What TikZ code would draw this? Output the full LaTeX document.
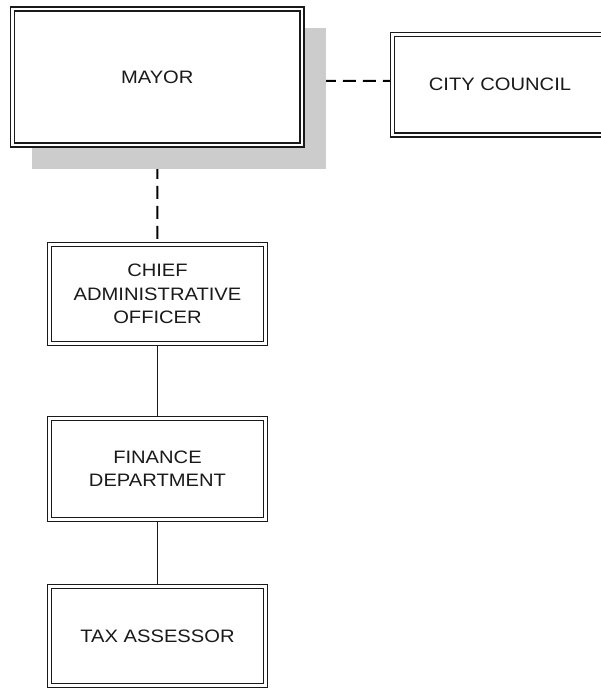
\documentclass[tikz,border=0pt]{standalone}
\usepackage{fontspec}
\setmainfont{Liberation Sans}[FakeStretch=1.12]
\pgfdeclarelayer{links}
\pgfdeclarelayer{shade}
\pgfsetlayers{links,shade,main}
\definecolor{shadowgray}{HTML}{CCCCCC}
\definecolor{inkgray}{HTML}{1A1A1A}
\tikzset{
  orgbox/.style={draw=inkgray, fill=white, line width=1.6pt, double=white,
    double distance=2.1pt, inner sep=0pt, align=center, text=inkgray,
    font=\fontsize{18}{23.3}\selectfont},
  dashlink/.style={draw=black, line width=2pt, dash pattern=on 13pt off 7pt},
  solidlink/.style={draw=inkgray, line width=1.5pt}
}
\begin{document}
\begin{tikzpicture}[x=1pt, y=-1pt]
  \useasboundingbox (0,0) rectangle (601,688);
  \clip (0,0) rectangle (601,688);

  % boxes of the chart
  \node[orgbox, minimum width=289.5pt, minimum height=136pt] (mayor) at (157.25,77) {MAYOR};
  \node[orgbox, minimum width=215pt, minimum height=100.5pt] (council) at (500,84.75) {CITY COUNCIL};
  \node[orgbox, minimum width=216pt, minimum height=99pt] (cao) at (157.5,294) {CHIEF\\ADMINISTRATIVE\\OFFICER};
  \node[orgbox, minimum width=216pt, minimum height=101pt] (finance) at (157.5,469) {FINANCE\\DEPARTMENT};
  \node[orgbox, minimum width=216pt, minimum height=99pt] (tax) at (157.5,636) {TAX ASSESSOR};

  % drop shadow behind the mayor's box
  \begin{pgfonlayer}{shade}
    \fill[shadowgray] (32,28) rectangle (326,169);
  \end{pgfonlayer}

  % reporting lines, kept under the shadow
  \begin{pgfonlayer}{links}
    \draw[dashlink] ([yshift=-4pt]mayor.east) -- ([yshift=4pt]council.west);
    \draw[dashlink] (mayor.south) -- (cao.north);
    \draw[solidlink] (cao.south) -- (finance.north);
    \draw[solidlink] (finance.south) -- (tax.north);
  \end{pgfonlayer}
\end{tikzpicture}
\end{document}
